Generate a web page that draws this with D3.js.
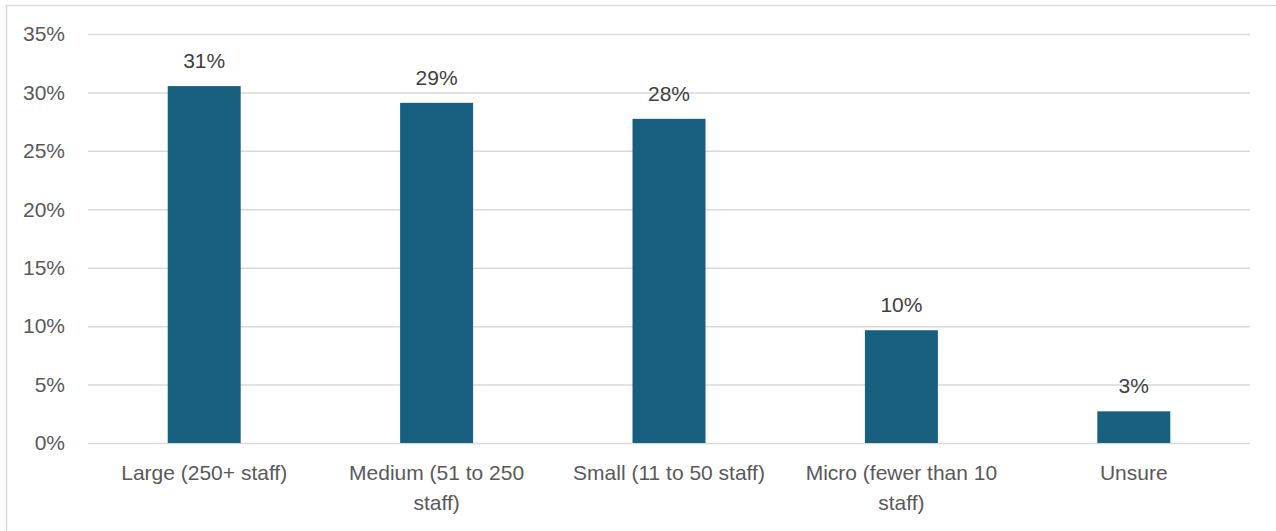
<!DOCTYPE html>
<html>
<head>
<meta charset="utf-8">
<script src="https://cdn.jsdelivr.net/npm/d3@7"></script>
<style>
  html, body { margin: 0; padding: 0; background: #fff; }
  svg { display: block; }
  text { font-family: "Liberation Sans", Arial, sans-serif; }
</style>
</head>
<body>
<script>
// Share of respondents by organisation size
const categories = [
  "Large (250+ staff)",
  "Medium (51 to 250 staff)",
  "Small (11 to 50 staff)",
  "Micro (fewer than 10 staff)",
  "Unsure"
];
const shares = [0.3054, 0.2911, 0.2774, 0.0965, 0.0271];
const yTicks = [0, 0.05, 0.10, 0.15, 0.20, 0.25, 0.30, 0.35];

const W = 1276, H = 531;
const margin = { top: 34, right: 26, bottom: 88, left: 88 };
const fontSize = 21;

const svg = d3.select("body").append("svg")
  .attr("width", W).attr("height", H);

// chart frame (top and left edges visible)
svg.append("path")
  .attr("d", `M6.5,${H} V5.5 H${W}`)
  .attr("fill", "none")
  .attr("stroke", "#d9d9d9")
  .attr("stroke-width", 1.5);

const x = d3.scaleBand()
  .domain(categories)
  .range([margin.left, W - margin.right])
  .paddingInner(0.686)
  .paddingOuter(0.343);

const y = d3.scaleLinear()
  .domain([0, 0.35])
  .range([H - margin.bottom, margin.top]);

const pct = d3.format(".0%");

// horizontal gridlines + y labels
const yAxis = d3.axisLeft(y)
  .tickValues(yTicks)
  .tickFormat(pct)
  .tickSize(-(W - margin.right - margin.left))
  .tickPadding(23);

const gy = svg.append("g")
  .attr("transform", `translate(${margin.left},0)`)
  .call(yAxis);
gy.select(".domain").remove();
gy.selectAll(".tick line")
  .attr("stroke", "#d9d9d9")
  .attr("stroke-width", 1.5);
gy.selectAll(".tick text")
  .attr("fill", "#595959")
  .attr("font-size", fontSize);

// bars
svg.append("g").selectAll("rect")
  .data(categories)
  .join("rect")
  .attr("x", d => x(d))
  .attr("width", x.bandwidth())
  .attr("y", (d, i) => y(shares[i]))
  .attr("height", (d, i) => y(0) - y(shares[i]))
  .attr("fill", "#17607f");

// value labels
svg.append("g").selectAll("text")
  .data(categories)
  .join("text")
  .attr("x", d => x(d) + x.bandwidth() / 2)
  .attr("y", (d, i) => y(shares[i]) - 18)
  .attr("text-anchor", "middle")
  .attr("font-size", fontSize)
  .attr("fill", "#404040")
  .text((d, i) => pct(shares[i]));

// category axis with wrapped labels
const xAxis = d3.axisBottom(x).tickSize(0).tickPadding(0);
const gx = svg.append("g")
  .attr("transform", `translate(0,${H - margin.bottom})`)
  .call(xAxis);
gx.select(".domain").remove();
gx.selectAll(".tick text")
  .attr("fill", "#595959")
  .attr("font-size", fontSize)
  .call(wrap, 212);

function wrap(sel, width) {
  sel.each(function () {
    const t = d3.select(this);
    const words = t.text().split(/\s+/);
    t.text(null).attr("dy", null);
    let line = [];
    let lineNo = 0;
    let tspan = t.append("tspan").attr("x", 0).attr("y", 37);
    for (const w of words) {
      line.push(w);
      tspan.text(line.join(" "));
      if (tspan.node().getComputedTextLength() > width && line.length > 1) {
        line.pop();
        tspan.text(line.join(" "));
        line = [w];
        lineNo++;
        tspan = t.append("tspan").attr("x", 0).attr("y", 37 + lineNo * 30).text(w);
      }
    }
  });
}
</script>
</body>
</html>
